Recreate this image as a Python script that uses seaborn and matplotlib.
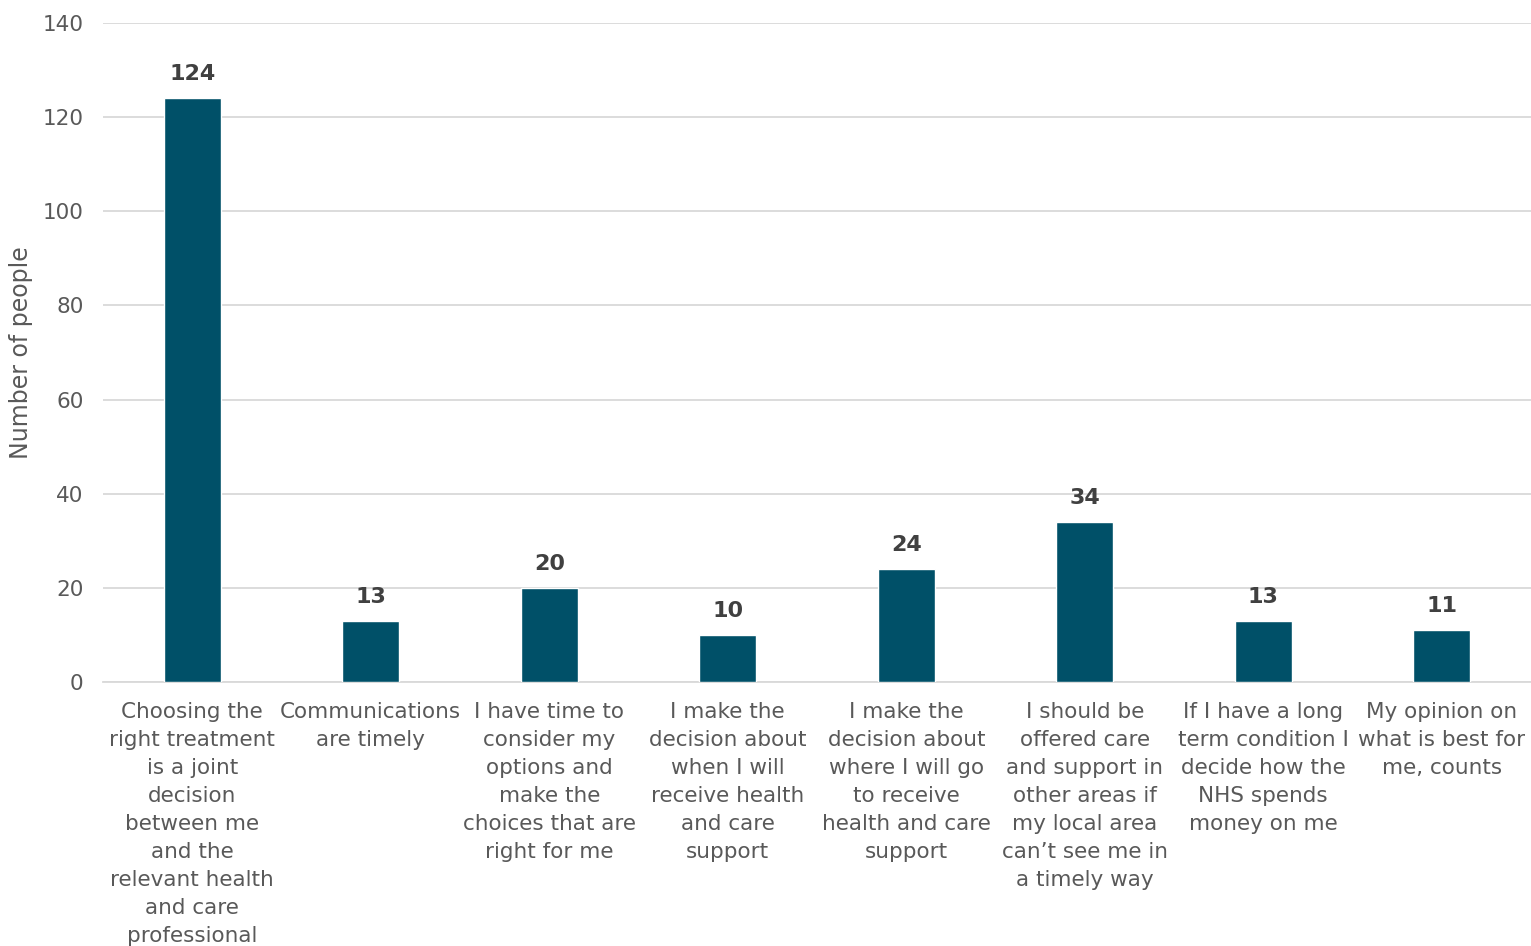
import matplotlib
matplotlib.use("Agg")
import matplotlib.pyplot as plt
import seaborn as sns
import pandas as pd

categories = [
    "Choosing the\nright treatment\nis a joint\ndecision\nbetween me\nand the\nrelevant health\nand care\nprofessional",
    "Communications\nare timely",
    "I have time to\nconsider my\noptions and\nmake the\nchoices that are\nright for me",
    "I make the\ndecision about\nwhen I will\nreceive health\nand care\nsupport",
    "I make the\ndecision about\nwhere I will go\nto receive\nhealth and care\nsupport",
    "I should be\noffered care\nand support in\nother areas if\nmy local area\ncan\u2019t see me in\na timely way",
    "If I have a long\nterm condition I\ndecide how the\nNHS spends\nmoney on me",
    "My opinion on\nwhat is best for\nme, counts",
]
values = [124, 13, 20, 10, 24, 34, 13, 11]
yticks = [0, 20, 40, 60, 80, 100, 120, 140]

sns.set_theme(style="white")
plt.rcParams['font.family'] = ['DejaVu Sans']
GRAY = "#595959"

df = pd.DataFrame({"cat": categories, "val": values})
fig = plt.figure(figsize=(15.31, 9.46), dpi=100)
ax = fig.add_axes([0.0673, 0.279, 0.9327, 0.6967])
sns.barplot(data=df, x="cat", y="val", color="#005068", width=0.32, saturation=1, ax=ax, zorder=3)

ax.set_xlim(-0.5, 7.5)
ax.set_ylim(0, 140)
ax.set_yticks(yticks)
ax.yaxis.grid(True, color="#d9d9d9", linewidth=1.3, zorder=0)
for s in ["top", "right", "left"]:
    ax.spines[s].set_visible(False)
ax.spines["bottom"].set_color("#d9d9d9")
ax.spines["bottom"].set_linewidth(1.3)
ax.tick_params(axis="x", length=0, labelsize=15.5, colors=GRAY, pad=14)
ax.tick_params(axis="y", length=0, labelsize=15.5, colors=GRAY, pad=14)
for lbl in ax.get_xticklabels():
    lbl.set_linespacing(1.5)
ax.set_xlabel("")
ax.set_ylabel("Number of people", fontsize=17, color=GRAY)
ax.yaxis.set_label_coords(-0.049, 0.5)

for i, v in enumerate(values):
    ax.text(i, v + 3, str(v), ha="center", va="bottom", fontsize=16, fontweight="bold", color="#404040")

fig.savefig("out.png", dpi=100)
